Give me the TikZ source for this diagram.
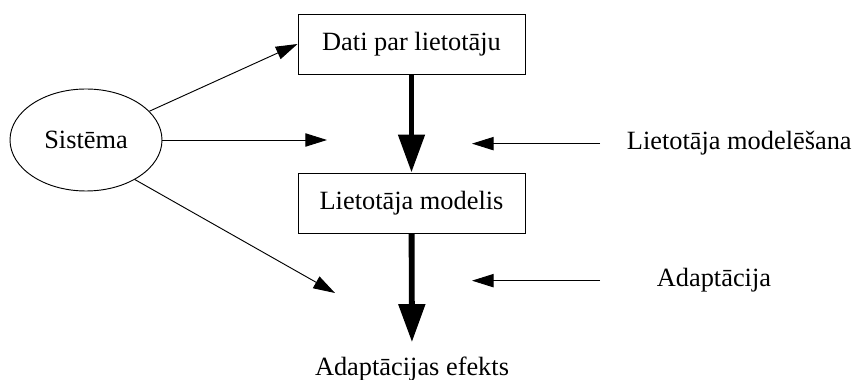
\documentclass[tikz,border=0pt]{standalone}
\usepackage{fontspec}
\setmainfont{Liberation Serif}
\usetikzlibrary{arrows.meta, positioning, calc, shapes.geometric}

\tikzset{
  bloks/.style={draw, line width=0.8pt, minimum width=6.81cm, minimum height=1.8cm, inner sep=0pt},
  teksts/.style={inner sep=0pt},
  tieva/.style={line width=0.8pt, -{Triangle[length=0.65cm, width=0.4cm]}},
  resna/.style={line width=5pt, -{Triangle[length=1.14cm, width=0.77cm]}},
}

\begin{document}
\begin{tikzpicture}[font=\fontsize{22.5}{27}\selectfont]
\useasboundingbox (0,0) rectangle (25.65,11.4);

\node[draw, ellipse, line width=0.8pt, minimum width=4.56cm, minimum height=3.06cm, inner sep=0pt] (sistema) at (2.58,7.2) {Sistēma};
\node[bloks] (dati) at (12.345,10.08) {Dati par lietotāju};
\node[bloks] (modelis) at (12.345,5.31) {Lietotāja modelis};
\node[teksts, anchor=base] (efekts) at (12.36,0.12) {Adaptācijas efekts};
\node[teksts, anchor=base west] (modelesana) at (18.8,6.9) {Lietotāja modelēšana};
\node[teksts, anchor=base west] (adaptacija) at (19.7,2.79) {Adaptācija};

% brīvie bultu gali
\coordinate (galsA) at (9.81,7.2);
\coordinate (galsB) at (10.05,2.61);
\coordinate (galsC) at (14.16,7.11);
\coordinate (galsD) at (14.16,3.03);

\draw[resna] (dati) -- (modelis);
\draw[resna, shorten >=0.45cm] (modelis) -- (efekts.north);

\draw[tieva] (sistema) -- (dati.west);
\draw[tieva] (sistema) -- (galsA);
\draw[tieva] (sistema.-39) -- (galsB);

\draw[tieva, shorten <=0.8cm] (modelesana.west) -- (modelesana.west -| galsC);
\draw[tieva, shorten <=1.7cm] (adaptacija.west) -- (adaptacija.west -| galsD);

\end{tikzpicture}
\end{document}
